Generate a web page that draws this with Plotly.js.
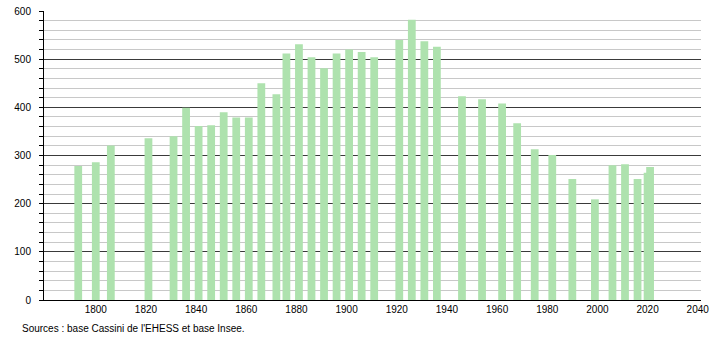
<!DOCTYPE html>
<html>
<head>
<meta charset="utf-8">
<script src="https://cdn.plot.ly/plotly-3.0.1.min.js"></script>
<style>html,body{margin:0;padding:0;background:#fff;}#chart{width:710px;height:340px;}</style>
</head>
<body>
<div id="chart"></div>
<script>
const years = [1793, 1800, 1806, 1821, 1831, 1836, 1841, 1846, 1851, 1856, 1861, 1866, 1872, 1876, 1881, 1886, 1891, 1896, 1901, 1906, 1911, 1921, 1926, 1931, 1936, 1946, 1954, 1962, 1968, 1975, 1982, 1990, 1999, 2006, 2011, 2016, 2020, 2021];
const population = [278, 286, 321, 336, 340, 399, 361, 363, 390, 379, 379, 450, 427, 512, 531, 504, 481, 512, 520, 515, 504, 540, 582, 537, 526, 423, 417, 408, 367, 313, 301, 251, 209, 280, 282, 251, 264, 276];
const xTickVals = [1800, 1820, 1840, 1860, 1880, 1900, 1920, 1940, 1960, 1980, 2000, 2020, 2040];
const yTickVals = [0, 100, 200, 300, 400, 500, 600];
const sourceText = "Sources : base Cassini de l'EHESS et base Insee.";

const trace = {
  type: 'bar',
  x: years,
  y: population,
  width: years.map(() => 3.1),
  marker: {color: 'rgb(174,226,174)', line: {width: 0}},
  hoverinfo: 'x+y'
};

const layout = {
  width: 710,
  height: 340,
  margin: {l: 44, r: 9, t: 10.5, b: 40, pad: 0},
  paper_bgcolor: '#fff',
  plot_bgcolor: '#fff',
  showlegend: false,
  font: {family: 'Liberation Sans, Arial, sans-serif', size: 10, color: '#000'},
  xaxis: {
    range: [1779.35, 2041.3],
    tickmode: 'array',
    tickvals: xTickVals,
    ticktext: xTickVals.map(String),
    ticks: '',
    showgrid: false,
    zeroline: false,
    showline: true,
    linecolor: '#000',
    linewidth: 1,
    tickfont: {size: 10, color: '#000'}
  },
  yaxis: {
    range: [0, 600],
    tickmode: 'array',
    tickvals: yTickVals,
    ticktext: yTickVals.map(String),
    ticks: 'outside',
    ticklen: 4,
    tickcolor: '#000',
    showgrid: true,
    gridcolor: '#3a3a3a',
    gridwidth: 1,
    zeroline: false,
    showline: true,
    linecolor: '#000',
    linewidth: 1,
    ticklabelstandoff: 6,
    tickfont: {size: 10, color: '#000'},
    minor: {
      dtick: 20,
      showgrid: true,
      gridcolor: '#c8c8c8',
      gridwidth: 1,
      ticks: 'outside',
      ticklen: 4,
      tickcolor: '#000'
    }
  },
  annotations: [{
    text: sourceText,
    xref: 'paper', yref: 'paper',
    x: -24/657, y: -29/289.5,
    xanchor: 'left', yanchor: 'middle',
    showarrow: false,
    font: {size: 10, color: '#000'}
  }]
};

Plotly.newPlot('chart', [trace], layout, {displayModeBar: false, staticPlot: true});
</script>
</body>
</html>
